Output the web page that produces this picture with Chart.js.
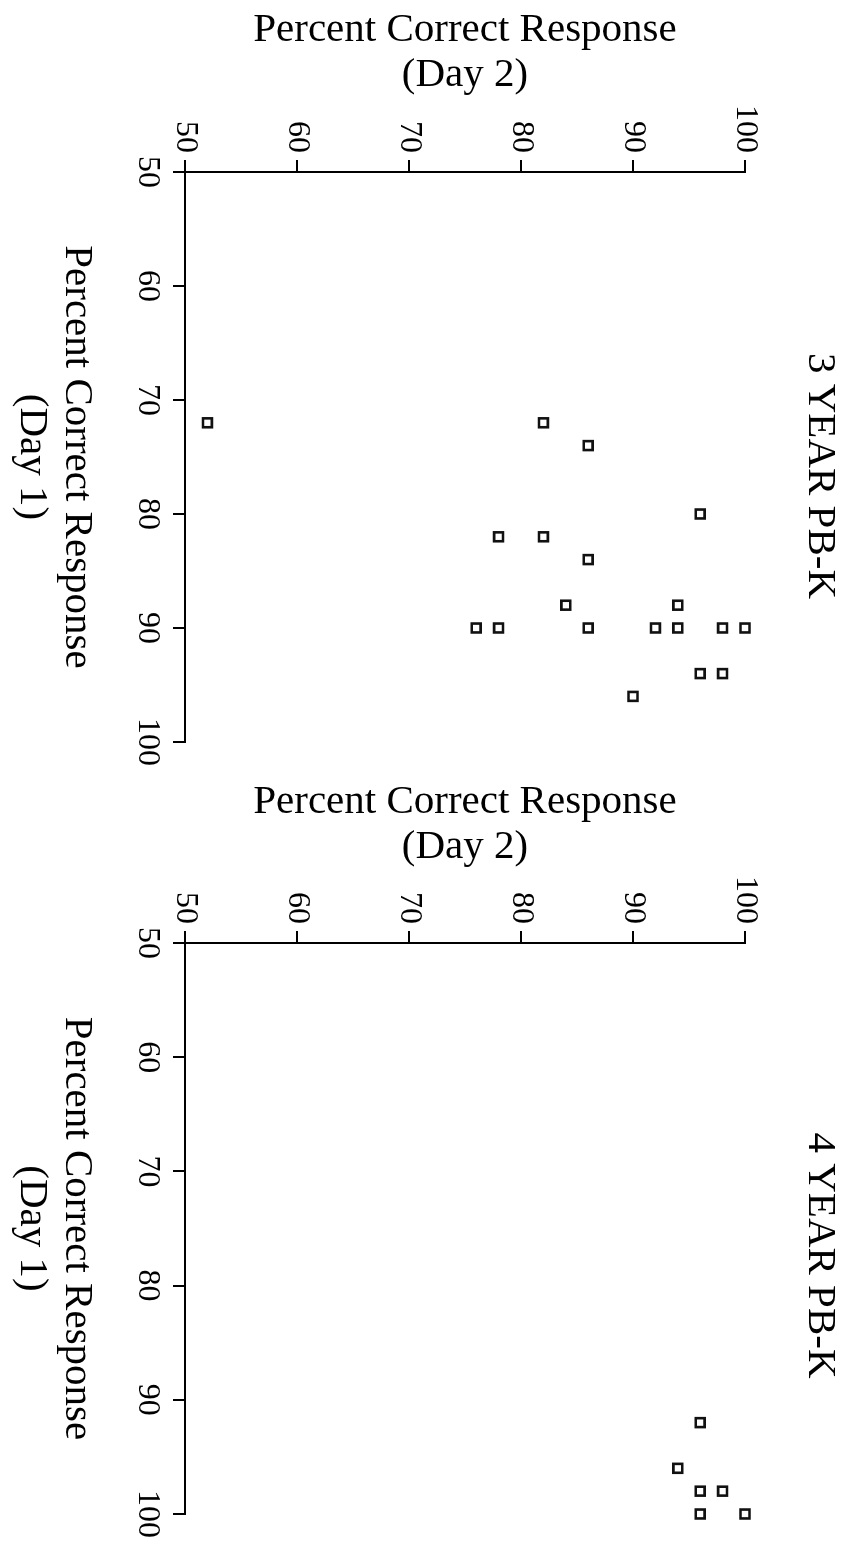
<!DOCTYPE html>
<html><head><meta charset="utf-8">
<script src="https://cdn.jsdelivr.net/npm/chart.js@4.4.0/dist/chart.umd.min.js"></script>
<style>
html,body{margin:0;padding:0;background:#fff;overflow:hidden;width:850px;height:1544px;}
#page{position:absolute;left:0;top:0;width:1544px;height:850px;transform-origin:0 0;transform:translateX(850px) rotate(90deg);background:#fff;}
.box{position:absolute;top:0;height:850px;width:772px;}
</style></head><body>
<div id="page">
  <div class="box" style="left:0px"><canvas id="c1" width="772" height="850"></canvas></div>
  <div class="box" style="left:772px"><canvas id="c2" width="772" height="850"></canvas></div>
</div>
<script>
// ---- data ----
const tickValues = [50, 60, 70, 80, 90, 100];
const day1Title = ['Percent Correct Response', '(Day 1)'];
const day2Title = ['Percent Correct Response', '(Day 2)'];
const chartTitles = ['3 YEAR PB-K', '4 YEAR PB-K'];
const threeYearDay1 = [72, 72, 74, 80, 82, 82, 84, 88, 88, 90, 90, 90, 90, 90, 90, 90, 94, 94, 96];
const threeYearDay2 = [52, 82, 86, 96, 78, 82, 86, 84, 94, 76, 78, 86, 92, 94, 98, 100, 96, 98, 90];
const fourYearDay1 = [92, 96, 98, 98, 100, 100];
const fourYearDay2 = [96, 94, 96, 98, 96, 100];

Chart.defaults.font.family = "'Liberation Serif', 'Times New Roman', serif";
Chart.defaults.color = '#000';

function makeChart(id, title, xs, ys, yAxisWidth, rightPad, titleShift) {
  const pts = xs.map((x, i) => ({ x: x, y: ys[i] }));
  const axisCommon = {
    type: 'linear', min: 50, max: 100,
    afterBuildTicks: s => { s.ticks = tickValues.map(v => ({ value: v })); },
    grid: { display: true, drawOnChartArea: false, drawTicks: true, tickLength: 12, color: '#000', lineWidth: 2 },
    border: { display: true, color: '#000', width: 2 }
  };
  const shiftTitle = {
    id: 'shiftTitle',
    afterLayout(chart) {
      const t = chart.titleBlock;
      if (t) { t.left += titleShift; t.right += titleShift; }
    }
  };
  return new Chart(document.getElementById(id), {
    type: 'scatter',
    data: { datasets: [{
      data: pts, pointStyle: 'rect', pointRadius: 6.3, pointBorderWidth: 2.6,
      borderColor: '#111', backgroundColor: '#fff', clip: false
    }] },
    plugins: [shiftTitle],
    options: {
      responsive: false, animation: false, events: [],
      layout: { autoPadding: false, padding: { left: 0, right: rightPad, top: 0, bottom: 0 } },
      plugins: {
        legend: { display: false }, tooltip: { enabled: false },
        title: { display: true, text: title, fullSize: false, color: '#000',
          font: { size: 41, weight: 'normal', lineHeight: 1.2 }, padding: { top: 6, bottom: 49.8 } }
      },
      scales: {
        x: Object.assign({}, axisCommon, {
          position: 'bottom',
          ticks: { font: { size: 32 }, color: '#000', padding: 6, maxRotation: 0, autoSkip: false },
          title: { display: true, text: day1Title, color: '#000', font: { size: 41, lineHeight: 1.1 }, padding: { top: 0, bottom: 9 } },
          afterFit: s => { s.height = 185; }
        }),
        y: Object.assign({}, axisCommon, {
          position: 'left',
          ticks: { font: { size: 32 }, color: '#000', padding: 7, autoSkip: false },
          title: { display: true, text: day2Title, color: '#000', font: { size: 41, lineHeight: 1.1 }, padding: { top: 8, bottom: 0 } },
          afterFit: s => { s.width = yAxisWidth; }
        })
      }
    }
  });
}
makeChart('c1', chartTitles[0], threeYearDay1, threeYearDay2, 172, 25, 19);
makeChart('c2', chartTitles[1], fourYearDay1, fourYearDay2, 171, 26, 27);
</script>
</body></html>
